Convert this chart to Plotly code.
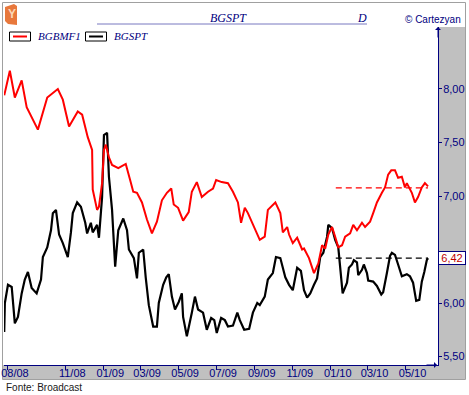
import plotly.graph_objects as go

# ---------------- data ----------------
red_name = "BGBMF1"
black_name = "BGSPT"

red_dates = ["2008-07-26","2008-08-04","2008-08-12","2008-08-23","2008-08-31","2008-09-18","2008-10-03","2008-10-20","2008-10-28","2008-11-07",
             "2008-11-21","2008-11-28","2008-12-07","2008-12-14","2008-12-15","2008-12-22","2008-12-25","2008-12-30","2009-01-02","2009-01-05",
             "2009-01-10","2009-01-15","2009-01-25","2009-02-02","2009-02-06","2009-02-13","2009-02-18","2009-02-24","2009-03-04","2009-03-12",
             "2009-03-20","2009-03-28","2009-04-05","2009-04-13","2009-04-20","2009-04-24","2009-05-01","2009-05-09","2009-05-18","2009-05-23",
             "2009-05-31","2009-06-08","2009-06-18","2009-06-26","2009-07-01","2009-07-10","2009-07-20","2009-07-28","2009-08-05","2009-08-10",
             "2009-08-16","2009-08-21","2009-08-28","2009-09-05","2009-09-09","2009-09-17","2009-09-22","2009-10-04","2009-10-12","2009-10-16",
             "2009-10-23","2009-10-26","2009-11-01","2009-11-08","2009-11-16","2009-11-19","2009-11-27","2009-12-05","2009-12-12","2009-12-18",
             "2009-12-23","2009-12-28","2010-01-03","2010-01-08","2010-01-13","2010-01-19","2010-01-24","2010-02-01","2010-02-06","2010-02-12",
             "2010-02-20","2010-02-25","2010-03-05","2010-03-10","2010-03-16","2010-03-24","2010-03-29","2010-04-03","2010-04-08","2010-04-14",
             "2010-04-19","2010-04-25","2010-04-30","2010-05-03","2010-05-11","2010-05-16","2010-05-21","2010-05-27","2010-06-01","2010-06-06"]
red_vals = [7.94, 8.17, 7.92, 8.08, 7.83, 7.62, 7.92, 8.00, 7.90, 7.65,
            7.79, 7.76, 7.55, 7.43, 7.06, 6.87, 6.90, 7.12, 7.43, 7.48,
            7.36, 7.29, 7.26, 7.29, 7.30, 7.15, 7.04, 7.03, 6.94, 6.78,
            6.65, 6.76, 6.96, 7.03, 7.07, 6.92, 6.89, 6.77, 6.85, 7.04,
            7.13, 6.99, 7.04, 7.07, 7.15, 7.13, 7.12, 7.04, 6.94, 6.75,
            6.89, 6.84, 6.75, 6.65, 6.59, 6.62, 6.87, 6.94, 6.84, 6.66,
            6.71, 6.64, 6.56, 6.61, 6.50, 6.51, 6.42, 6.28, 6.37, 6.54,
            6.51, 6.64, 6.71, 6.62, 6.52, 6.54, 6.62, 6.65, 6.73, 6.68,
            6.75, 6.71, 6.76, 6.84, 6.94, 7.03, 7.08, 7.20, 7.24, 7.24,
            7.17, 7.18, 7.08, 7.12, 7.03, 6.94, 6.99, 7.08, 7.12, 7.09]

black_dates = ["2008-07-26","2008-07-27","2008-08-01","2008-08-07","2008-08-12","2008-08-17","2008-08-23","2008-08-28","2008-09-02","2008-09-08",
               "2008-09-16","2008-09-23","2008-09-26","2008-10-03","2008-10-09","2008-10-12","2008-10-17","2008-10-22","2008-10-28","2008-11-05",
               "2008-11-10","2008-11-13","2008-11-20","2008-11-26","2008-12-03","2008-12-06","2008-12-12","2008-12-15","2008-12-22","2008-12-25",
               "2008-12-30","2009-01-02","2009-01-07","2009-01-10","2009-01-15","2009-01-20","2009-01-25","2009-02-02","2009-02-08","2009-02-11",
               "2009-02-19","2009-02-24","2009-02-27","2009-03-06","2009-03-10","2009-03-15","2009-03-22","2009-03-28","2009-03-31","2009-04-07",
               "2009-04-12","2009-04-16","2009-04-21","2009-04-26","2009-05-02","2009-05-07","2009-05-09","2009-05-15","2009-05-23","2009-05-28",
               "2009-06-02","2009-06-10","2009-06-16","2009-06-23","2009-06-28","2009-07-02","2009-07-09","2009-07-15","2009-07-20","2009-07-28",
               "2009-08-04","2009-08-08","2009-08-15","2009-08-23","2009-08-29","2009-09-05","2009-09-09","2009-09-17","2009-09-22","2009-09-30",
               "2009-10-05","2009-10-12","2009-10-20","2009-10-26","2009-11-01","2009-11-08","2009-11-14","2009-11-19","2009-11-24","2009-11-29",
               "2009-12-05","2009-12-10","2009-12-15","2009-12-20","2009-12-26","2009-12-28","2010-01-03","2010-01-08","2010-01-13","2010-01-17",
               "2010-01-20","2010-01-27","2010-01-30","2010-02-04","2010-02-07","2010-02-12","2010-02-14","2010-02-20","2010-02-23","2010-02-28",
               "2010-03-02","2010-03-10","2010-03-16","2010-03-23","2010-03-26","2010-04-01","2010-04-06","2010-04-09","2010-04-14","2010-04-19",
               "2010-04-25","2010-05-03","2010-05-08","2010-05-13","2010-05-18","2010-05-23","2010-05-27","2010-05-31","2010-06-04","2010-06-06"]
black_vals = [5.73, 6.00, 6.17, 6.15, 5.81, 5.87, 6.09, 6.22, 6.29, 6.14,
              6.09, 6.22, 6.43, 6.52, 6.68, 6.84, 6.87, 6.64, 6.56, 6.43,
              6.66, 6.84, 6.94, 6.90, 6.75, 6.65, 6.75, 6.66, 6.73, 6.61,
              6.99, 7.57, 7.59, 7.18, 6.87, 6.34, 6.68, 6.79, 6.68, 6.50,
              6.42, 6.23, 6.47, 6.50, 6.24, 5.98, 5.78, 5.78, 6.00, 6.17,
              6.24, 6.27, 6.06, 5.94, 6.01, 6.09, 5.87, 5.69, 5.91, 6.06,
              5.94, 5.91, 5.75, 5.86, 5.84, 5.72, 5.86, 5.84, 5.78, 5.79,
              5.91, 5.84, 5.75, 5.76, 5.91, 6.00, 5.98, 6.06, 6.22, 6.28,
              6.43, 6.42, 6.24, 6.17, 6.12, 6.33, 6.30, 6.12, 6.05, 6.09,
              6.17, 6.23, 6.43, 6.47, 6.62, 6.73, 6.70, 6.59, 6.52, 6.31,
              6.09, 6.19, 6.33, 6.36, 6.40, 6.38, 6.26, 6.31, 6.36, 6.28,
              6.21, 6.20, 6.16, 6.08, 6.10, 6.28, 6.44, 6.47, 6.45, 6.36,
              6.25, 6.27, 6.25, 6.19, 6.02, 6.03, 6.20, 6.29, 6.40, 6.42]

ref_dates = ["2010-01-09", "2010-06-06"]
red_ref = [7.075, 7.075]
black_ref = [6.42, 6.42]
last_label = "6,42"

x_tickvals = ["2008-08-01","2008-11-01","2009-01-01","2009-03-01","2009-05-01","2009-07-01",
              "2009-09-01","2009-11-01","2010-01-01","2010-03-01","2010-05-01"]
x_ticktext = ["08/08","11/08","01/09","03/09","05/09","07/09","09/09","11/09","01/10","03/10","05/10"]
y_tickvals = [5.5, 6.0, 7.0, 7.5, 8.0]
y_ticktext = ["5,50", "6,00", "7,00", "7,50", "8,00"]

# ---------------- layout geometry ----------------
W, H = 469, 395
L, R, T, B = 4, 31, 27, 30
PW, PH = W - L - R, H - T - B
def px(x):
    return (x - L) / PW
def py(y):
    return (H - B - y) / PH

NAVY = "#000080"
GRAY = "#c0c0c0"
SERIF = "Liberation Serif"
SANS = "Liberation Sans"

fig = go.Figure()
fig.add_trace(go.Scatter(x=black_dates, y=black_vals, mode="lines", name=black_name,
                         line=dict(color="black", width=2.2), showlegend=False))
fig.add_trace(go.Scatter(x=red_dates, y=red_vals, mode="lines", name=red_name,
                         line=dict(color="#ff0000", width=2), showlegend=False))
fig.add_trace(go.Scatter(x=ref_dates, y=red_ref, mode="lines", showlegend=False,
                         line=dict(color="#ff0000", width=1.3, dash="6px,4px")))
fig.add_trace(go.Scatter(x=ref_dates, y=black_ref, mode="lines", showlegend=False,
                         line=dict(color="black", width=1.3, dash="6px,4px")))

shapes = [
    # gray bands
    dict(type="rect", xref="paper", yref="paper", x0=px(438), x1=px(465), y0=py(380), y1=py(27),
         fillcolor=GRAY, line=dict(width=0), layer="below"),
    dict(type="rect", xref="paper", yref="paper", x0=px(3), x1=px(438), y0=py(380), y1=py(365),
         fillcolor=GRAY, line=dict(width=0), layer="below"),
    # outer border
    dict(type="rect", xref="paper", yref="paper", x0=px(2.5), x1=px(465.5), y0=py(379.5), y1=py(2.5),
         fillcolor="rgba(0,0,0,0)", line=dict(color="#a0a0a0", width=1), layer="below"),
    # header underline
    dict(type="line", xref="paper", yref="paper", x0=px(97), x1=px(367), y0=py(24), y1=py(24),
         line=dict(color="#7878c0", width=1)),
    # legend boxes
    dict(type="rect", xref="paper", yref="paper", x0=px(9.5), x1=px(30.5), y0=py(41), y1=py(32),
         fillcolor="white", line=dict(color="black", width=1)),
    dict(type="line", xref="paper", yref="paper", x0=px(13), x1=px(27), y0=py(36.5), y1=py(36.5),
         line=dict(color="#ff0000", width=2)),
    dict(type="rect", xref="paper", yref="paper", x0=px(85.5), x1=px(106.5), y0=py(41), y1=py(32),
         fillcolor="white", line=dict(color="black", width=1)),
    dict(type="line", xref="paper", yref="paper", x0=px(89), x1=px(103), y0=py(36.5), y1=py(36.5),
         line=dict(color="black", width=2)),
    # logo
    dict(type="path", xref="paper", yref="paper",
         path=f"M {px(5)} {py(7)} L {px(14)} {py(4)} L {px(17)} {py(6)} L {px(17)} {py(25)} L {px(8)} {py(24)} L {px(5)} {py(21)} Z",
         fillcolor="#e8783c", line=dict(width=0)),
]

def label(x, y, text, size, color, family, xanchor="center", **kw):
    return dict(xref="paper", yref="paper", x=px(x), y=py(y), text=text, showarrow=False,
                xanchor=xanchor, yanchor="middle", font=dict(family=family, size=size, color=color), **kw)

annotations = [
    label(228.5, 18, "<i>BGSPT</i>", 12, NAVY, SERIF),
    label(361.5, 18, "<i>D</i>", 12, NAVY, SERIF),
    label(463, 19, "© Cartezyan", 10, NAVY, SANS, xanchor="right"),
    label(36, 36.5, "<i>" + red_name + "</i>", 11, NAVY, SERIF, xanchor="left"),
    label(112, 36.5, "<i>" + black_name + "</i>", 11, NAVY, SERIF, xanchor="left"),
    label(4, 387, "Fonte: Broadcast", 10, "#202020", SANS, xanchor="left"),
    label(11.5, 14.5, "<b>Y</b>", 12, "#fbd9b8", SANS),
    # last value box
    dict(xref="paper", yref="y", x=px(438), y=black_ref[-1], text=last_label, showarrow=False,
         xanchor="left", yanchor="middle", font=dict(family=SANS, size=11, color="#c00000"),
         bgcolor="white", bordercolor=NAVY, borderwidth=1, borderpad=0, width=26),
    # axis arrows
    dict(xref="paper", yref="paper", x=px(438), y=py(27), ax=0, ay=12, text="", showarrow=True,
         arrowhead=1, arrowsize=1, arrowwidth=1, arrowcolor=NAVY),
    dict(xref="paper", yref="paper", x=px(437), y=py(365), ax=-12, ay=0, text="", showarrow=True,
         arrowhead=1, arrowsize=1, arrowwidth=1, arrowcolor=NAVY),
]

fig.update_layout(
    width=W, height=H,
    margin=dict(l=L, r=R, t=T, b=B, pad=0, autoexpand=False),
    paper_bgcolor="white", plot_bgcolor="white",
    showlegend=False,
    shapes=shapes, annotations=annotations,
    xaxis=dict(type="date", range=["2008-07-25 15:00", "2010-06-22"],
               tickvals=x_tickvals, ticktext=x_ticktext, ticklabelshift=7, ticklabelstandoff=-6,
               showgrid=False, zeroline=False, showline=True, linecolor=NAVY, linewidth=1,
               ticks="outside", ticklen=4, tickcolor=NAVY, automargin=False,
               tickfont=dict(family=SANS, size=11, color=NAVY), fixedrange=True),
    yaxis=dict(side="right", range=[5.421, 8.579], tickvals=y_tickvals, ticktext=y_ticktext,
               showgrid=False, zeroline=False, showline=True, linecolor=NAVY, linewidth=1,
               ticks="outside", ticklen=3, tickcolor=NAVY, automargin=False, ticklabelstandoff=-1,
               tickfont=dict(family=SANS, size=11, color=NAVY), fixedrange=True),
)

fig.write_html("out.html", config={"displayModeBar": False},
               post_script="document.body.style.margin='0';document.body.style.overflow='hidden';")
